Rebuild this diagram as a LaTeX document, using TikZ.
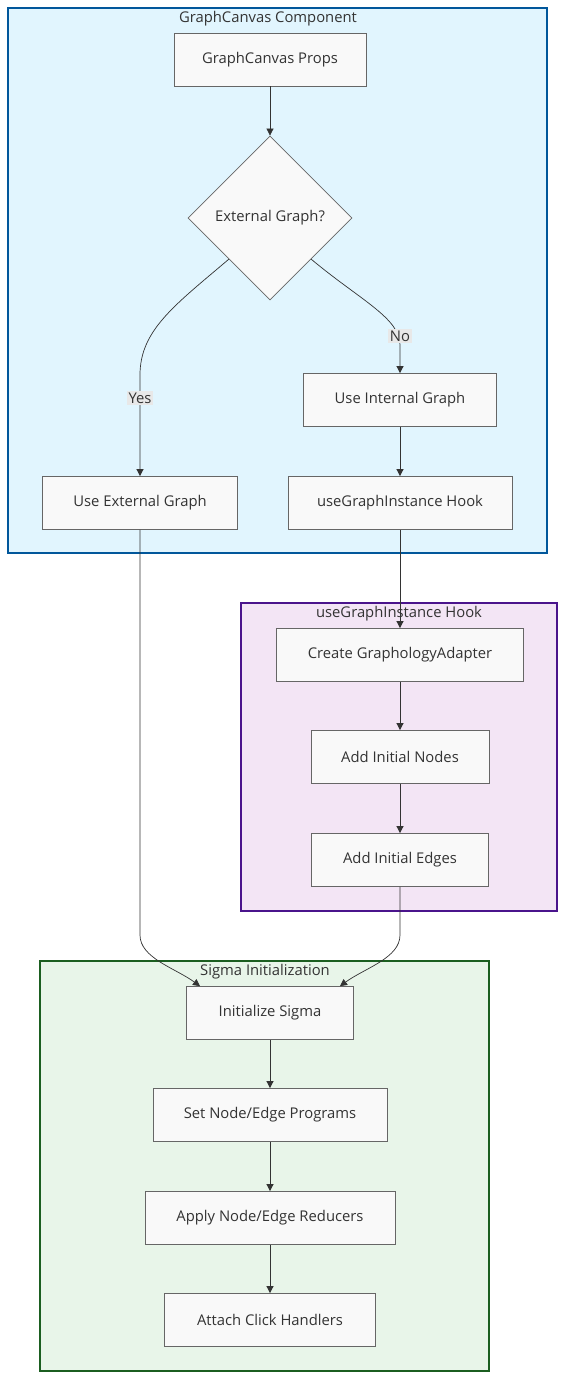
\documentclass[tikz,border=0pt]{standalone}
\usepackage{fontspec}
\setmainfont{Open Sans}
\usetikzlibrary{arrows.meta,calc,positioning,shapes.geometric}
\definecolor{Ink}{HTML}{333333}
\definecolor{NodeFill}{HTML}{F9F9F9}
\definecolor{NodeLine}{HTML}{666666}
\definecolor{TagFill}{HTML}{E8E8E8}
\definecolor{CanvasFill}{HTML}{E1F5FE}
\definecolor{CanvasLine}{HTML}{01579B}
\definecolor{HookFill}{HTML}{F3E5F5}
\definecolor{HookLine}{HTML}{4A148C}
\definecolor{SigmaFill}{HTML}{E8F5E9}
\definecolor{SigmaLine}{HTML}{1B5E20}

\begin{document}
\begin{tikzpicture}[x=1pt,y=-1pt,
    box/.style={draw=NodeLine,fill=NodeFill,line width=.8pt,minimum height=53pt,inner sep=0pt,text=Ink,font=\fontsize{14.8}{17}\selectfont},
    ask/.style={diamond,draw=NodeLine,fill=NodeFill,line width=.8pt,minimum width=164pt,minimum height=164pt,inner sep=0pt,text=Ink,font=\fontsize{14.8}{17}\selectfont},
    flow/.style={draw=Ink,line width=.7pt,-{Triangle[length=7pt,width=7pt]}},
    tag/.style={fill=TagFill,inner sep=1.5pt,text=Ink,font=\fontsize{14.8}{17}\selectfont},
    title/.style={text=Ink,font=\fontsize{14.8}{17}\selectfont},
    zone/.style={line width=1.6pt}]
  \useasboundingbox (0,0) rectangle (574,1398);
  % clusters
  \filldraw[zone,fill=CanvasFill,draw=CanvasLine] (8,8) rectangle (547,553);
  \filldraw[zone,fill=HookFill,draw=HookLine] (241,603) rectangle (557,911);
  \filldraw[zone,fill=SigmaFill,draw=SigmaLine] (40,961) rectangle (489,1371);
  \node[title] (canvasT) at (268,19) {GraphCanvas Component};
  \node[title] (hookT) at (399,614) {useGraphInstance Hook};
  \node[title] (sigmaT) at (265,972) {Sigma Initialization};
  % GraphCanvas
  \node[box,minimum width=192pt] (props) at (270,59.5) {GraphCanvas Props};
  \node[ask] (extq) at (270,218) {External Graph?};
  \node[box,minimum width=193pt] (intg) at (400,400) {Use Internal Graph};
  \node[box,minimum width=195pt] (extg) at (140,503) {Use External Graph};
  \node[box,minimum width=224pt] (hook) at (400,503) {useGraphInstance Hook};
  % useGraphInstance
  \node[box,minimum width=247pt] (adapt) at (400,655) {Create GraphologyAdapter};
  \node[box,minimum width=178pt] (nodes) at (400,757) {Add Initial Nodes};
  \node[box,minimum width=177pt] (edges) at (400,860) {Add Initial Edges};
  % Sigma
  \node[box,minimum width=167pt] (sigma) at (270,1013) {Initialize Sigma};
  \node[box,minimum width=234pt] (progs) at (270,1115) {Set Node/Edge Programs};
  \node[box,minimum width=250pt] (reduce) at (270,1218) {Apply Node/Edge Reducers};
  \node[box,minimum width=211pt] (click) at (270,1320) {Attach Click Handlers};
  % connectors
  \draw[flow] (props) -- (extq);
  \draw[flow] (extq.-135) .. controls (175,305) and (140,330) .. (140,375) -- (extg.north);
  \draw[flow] (extq.-45) .. controls (360,300) and (400,318) .. (400,345) -- (intg.north);
  \node[tag] (yes) at (140,398) {Yes};
  \node[tag] (no) at (400,336) {No};
  \draw[flow] (intg) -- (hook);
  \draw[flow] (hook) -- (adapt);
  \draw[flow] (adapt) -- (nodes);
  \draw[flow] (nodes) -- (edges);
  \draw[flow] (extg.south) -- (140,935) .. controls (140,958) and (175,968) .. ([xshift=-70pt]sigma.north);
  \draw[flow] (edges.south) -- (400,935) .. controls (400,958) and (365,968) .. ([xshift=70pt]sigma.north);
  \draw[flow] (sigma) -- (progs);
  \draw[flow] (progs) -- (reduce);
  \draw[flow] (reduce) -- (click);
\end{tikzpicture}
\end{document}
